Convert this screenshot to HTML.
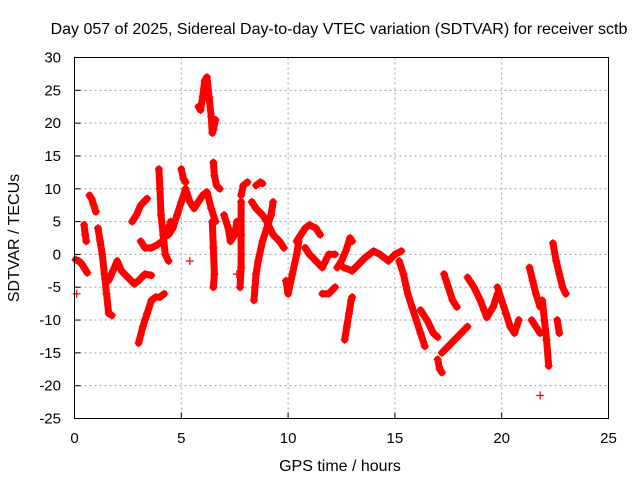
<!DOCTYPE html>
<html><head><meta charset="utf-8"><style>
html,body{margin:0;padding:0;background:#fff}
svg{display:block}
text{font-family:"Liberation Sans",sans-serif;font-size:15px;fill:#000}
.big{font-size:16px}
</style></head><body>
<svg id="chart" width="640" height="480">
<text class="big" x="339" y="34" text-anchor="middle">Day 057 of 2025, Sidereal Day-to-day VTEC variation (SDTVAR) for receiver sctb</text>
<g id="grid"></g>
<g id="marks"></g>
<rect x="74.5" y="57.5" width="534" height="361" fill="none" stroke="#000" stroke-width="1"/>
<g id="ticks"></g>
<text class="big" x="340" y="471" text-anchor="middle">GPS time / hours</text>
<text class="big" transform="translate(19,238) rotate(-90)" text-anchor="middle">SDTVAR / TECUs</text>
</svg>
<script>
const xTicks=[0,5,10,15,20,25];
const yTicks=[-25,-20,-15,-10,-5,0,5,10,15,20,25,30];
const arcTimes=[
[0.05,0.2,0.35,0.5,0.6],[0.1],[0.45,0.5,0.55],[0.7,0.8,0.9,1.0],
[1.1,1.2,1.3,1.4,1.5,1.6,1.75],
[1.6,1.8,2.0,2.2,2.5,2.8,3.0,3.3,3.6],
[2.7,2.9,3.1,3.4],
[3.0,3.2,3.4,3.6,3.8,4.0,4.2],
[3.1,3.3,3.6,3.9,4.1,4.3,4.5],
[3.95,4.0,4.05,4.15,4.25,4.4],
[4.4,4.6,4.8,5.0,5.2,5.4,5.6,5.8,6.0,6.2,6.4,6.6],
[5.0,5.1,5.2],
[5.8,5.9,6.0,6.1,6.2,6.3,6.4,6.45,6.5,6.6],
[6.5,6.55,6.65,6.8],
[6.45,6.5,6.55,6.5],
[5.4],
[7.0,7.2,7.3,7.5,7.6],
[7.8,7.8,7.8,7.75],[7.6],
[7.8,7.9,8.1],
[8.5,8.7,8.8],
[8.3,8.5,8.8,9.0,9.3,9.6,9.8],
[8.4,8.5,8.6,8.8,9.0,9.2,9.3],
[9.9,10.0,10.2,10.4,10.5],
[10.4,10.6,10.8,11.0,11.3,11.5],
[10.8,11.0,11.3,11.6,11.9,12.2],
[11.6,11.9,12.2],
[12.3,12.5,12.7,12.9,13.0],
[12.65,12.75,12.85,12.95,13.0],
[12.6,13.0,13.3,13.6,14.0,14.3,14.7,15.0,15.3],
[15.2,15.4,15.6,15.8,16.0,16.2,16.4],
[16.2,16.5,16.8,17.0],
[17.0,17.1,17.2],
[17.2,17.5,17.8,18.1,18.4],
[17.3,17.5,17.7,17.9],
[18.4,18.7,19.0,19.3,19.6,19.8],
[19.8,20.0,20.2,20.4,20.6,20.8],
[21.3,21.45,21.6,21.8],
[21.4,21.6,21.8],
[21.9,22.0,22.1,22.2],
[22.4,22.55,22.7,22.85,23.0],
[22.6,22.7],
[21.8]
];
const arcValues=[
[-0.8,-1,-1.5,-2.3,-2.8],[-6],[4.5,3,2],[9,8.5,7.5,6.5],
[4,2,0,-3,-6,-9,-9.3],
[-4,-2.5,-1,-2.5,-3.5,-4.5,-4,-3,-3.2],
[5,6,7.5,8.5],
[-13.5,-11,-9,-7,-6.5,-6.5,-6],
[2,1,1,1.5,2,3,5],
[13,10,6,3,0,-1],
[3,4,6,8,10,8,7,8,9,9.5,7,5],
[13,11.5,11],
[22.5,22,24,26.5,27,24,21,18.5,19,20.5],
[14,12,10.5,10],
[5,1,-3,-5],
[-1],
[6,4,2,3,5],
[8,3,-2,-5],[-3],
[9,10.5,11],
[10.5,11,10.8],
[8,7,6,5,3,2,1],
[-7,-3,-1,2,4,6,8],
[-4,-6,-3,0,2],
[2,3,4,4.5,4,3],
[1,0,-1,-2,0,0],
[-6,-6,-5],
[-2,-1,0.5,2.5,2],
[-13,-11,-9,-7,-6.5],
[-2,-2.5,-1.5,-0.5,0.5,0,-1,0,0.5],
[-1,-3,-6,-8,-10,-12,-14],
[-8.5,-10,-12,-12.6],
[-16,-17.5,-18],
[-15,-14,-13,-12,-11],
[-3,-5,-7,-8],
[-3.5,-5,-7,-9.6,-8,-6],
[-5,-7,-9,-11,-12,-10],
[-2,-4,-6,-8],
[-10,-11,-12],
[-7,-10,-13,-17],
[1.7,-1,-3,-5,-6],
[-10,-12],
[-21.5]
];
const X0=74.5,X1=608.5,Y0=418.5,Y1=57.5;
const sx=t=>X0+(t-0)/(25-0)*(X1-X0);
const sy=v=>Y0-(v+25)/(55)*(Y0-Y1);
const NS="http://www.w3.org/2000/svg";
const grid=document.getElementById('grid'),ticks=document.getElementById('ticks'),marks=document.getElementById('marks');
function mk(tag,attrs,parent){const e=document.createElementNS(NS,tag);for(const k in attrs)e.setAttribute(k,attrs[k]);parent.appendChild(e);return e;}
xTicks.forEach(t=>{const x=sx(t);
 if(t>0&&t<25){const g=mk('line',{x1:x,x2:x,y1:Y1,y2:Y0,stroke:'#a0a0a0','stroke-dasharray':'2,3'},grid);
 
 }
 const l=mk('line',{x1:x,x2:x,y1:Y0,y2:Y0-6,stroke:'#000'},ticks);
 
 
 const tx=mk('text',{x:x,y:443,'text-anchor':'middle'},ticks);tx.textContent=t;
 
 
});
yTicks.forEach(v=>{const y=sy(v);
 if(v>-25&&v<30){const g=mk('line',{x1:X0,x2:X1,y1:y,y2:y,stroke:'#a0a0a0','stroke-dasharray':'2,3'},grid);
 
 }
 const l=mk('line',{x1:X0,x2:X0+6,y1:y,y2:y,stroke:'#000'},ticks);
 
 
 const tx=mk('text',{x:61,y:y+5,'text-anchor':'end'},ticks);tx.textContent=v;
 
 
});
arcTimes.forEach((ts,i)=>{const vs=arcValues[i];
 const pts=ts.map((t,j)=>sx(t)+','+sy(vs[j])).join(' ');
 if(ts.length>1){const p=mk('polyline',{points:pts,fill:'none',stroke:'#f00','stroke-width':7,'stroke-linejoin':'round','stroke-linecap':'round'},marks);
 
 }
 ts.forEach((t,j)=>{const x=sx(t),y=sy(vs[j]);
  const m=mk('path',{d:`M${x-4},${y}H${x+4}M${x},${y-4}V${y+4}`,stroke:'#f00','stroke-width':1.2},marks);
  
  
 });
});
</script>
</body></html>
